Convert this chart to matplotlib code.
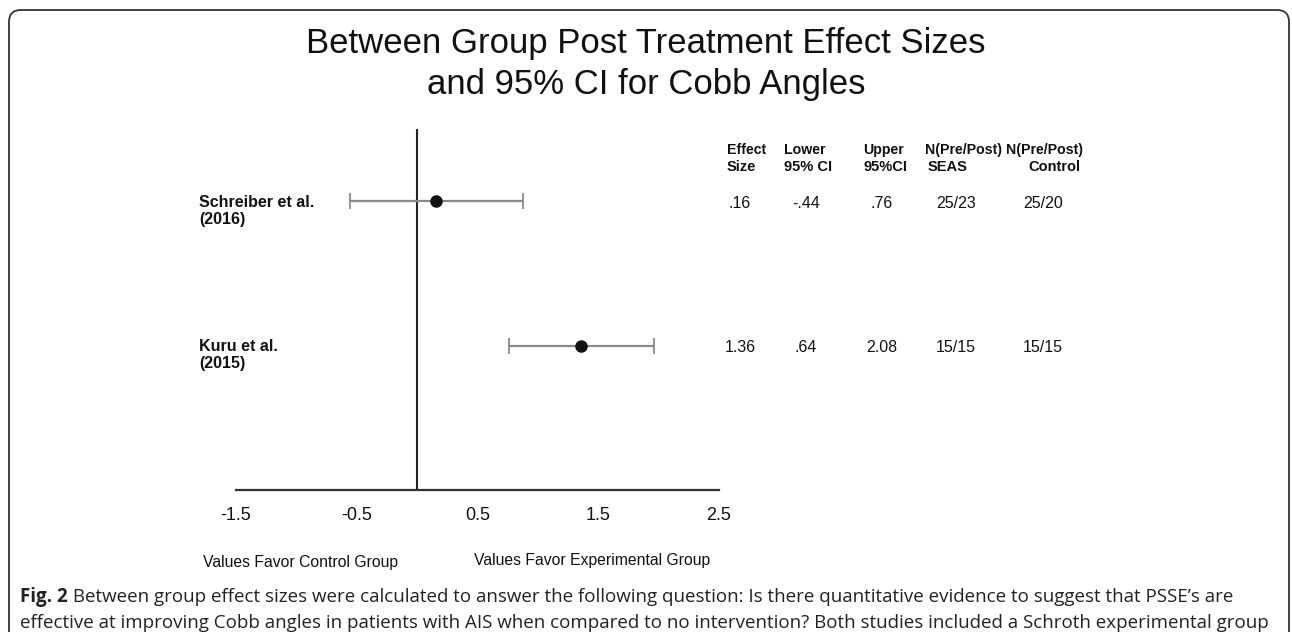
import matplotlib
matplotlib.use("Agg")
import matplotlib.pyplot as plt
from matplotlib.patches import FancyBboxPatch
from matplotlib.transforms import IdentityTransform, blended_transform_factory, offset_copy

# ---------------- data ----------------
studies = ["Schreiber et al.\n(2016)", "Kuru et al.\n(2015)"]
effect = [0.16, 1.36]
ci_lower_drawn = [-0.56, 0.76]
ci_upper_drawn = [0.88, 1.96]

es_text = [".16", "1.36"]
lower_text = ["-.44", ".64"]
upper_text = [".76", "2.08"]
n_seas = ["25/23", "15/15"]
n_control = ["25/20", "15/15"]

header_top = ["Effect", "Lower", "Upper", "N(Pre/Post)", "N(Pre/Post)"]
header_bot = ["Size", "95% CI", "95%CI", "SEAS", "Control"]

xticks = [-1.5, -0.5, 0.5, 1.5, 2.5]
xtick_labels = ["-1.5", "-0.5", "0.5", "1.5", "2.5"]

title = "Between Group Post Treatment Effect Sizes\nand 95% CI for Cobb Angles"
favor_left = "Values Favor Control Group"
favor_right = "Values Favor Experimental Group"
cap_bold = "Fig. 2"
cap_line1 = " Between group effect sizes were calculated to answer the following question: Is there quantitative evidence to suggest that PSSE\u2019s are"
cap_line2 = "effective at improving Cobb angles in patients with AIS when compared to no intervention? Both studies included a Schroth experimental group"

# ---------------- figure ----------------
W, H = 1292, 632
fig = plt.figure(figsize=(W / 100, H / 100), dpi=100)
fig.patch.set_facecolor("white")
plt.rcParams["font.family"] = ["Liberation Sans", "DejaVu Sans"]

def fx(px):
    return px / W

def fy(py):
    return 1 - py / H

# rounded border (extends beyond bottom)
border = FancyBboxPatch((9, -60), 1280, 622 + 60, boxstyle="round,pad=0,rounding_size=12",
                        transform=IdentityTransform(), fill=False, edgecolor="#333333", linewidth=1.3)
fig.patches.append(border)

# title
fig.text(0.5, fy(64), title, ha="center", va="center", fontsize=25, color="#111111",
         linespacing=1.32)

# axes
left, right, top, bottom = 236, 719, 129, 490
ax = fig.add_axes([fx(left), fy(bottom), (right - left) / W, (bottom - top) / H])
ax.set_xlim(-1.5, 2.5)
ax.set_ylim(0, 2.5)
for s in ["left", "right", "top"]:
    ax.spines[s].set_visible(False)
ax.spines["bottom"].set_color("#333333")
ax.spines["bottom"].set_linewidth(1.6)
ax.set_yticks([])
ax.set_xticks(xticks)
ax.set_xticklabels(xtick_labels, fontsize=13, color="#111111")
ax.tick_params(axis="x", length=0, pad=12)
ax.axvline(0, color="#222222", linewidth=1.5)

ypos = [len(studies) - i for i in range(len(studies))]
for i in range(len(studies)):
    ax.errorbar(effect[i], ypos[i],
                xerr=[[effect[i] - ci_lower_drawn[i]], [ci_upper_drawn[i] - effect[i]]],
                fmt="none", ecolor="#8a8a8a", elinewidth=1.6, capsize=6, capthick=1.3, zorder=2)
    ax.plot(effect[i], ypos[i], "o", color="#111111", markersize=8, zorder=3)

# row labels and table values, y tied to data rows
trans = blended_transform_factory(fig.transFigure, ax.transData)
lab_trans = offset_copy(trans, fig=fig, y=-9.5, units="dots")
val_trans = offset_copy(trans, fig=fig, y=-2, units="dots")
val_centers = [740, 806, 882, 956, 1043]
for i in range(len(studies)):
    fig.text(fx(199), ypos[i], studies[i], transform=lab_trans, ha="left", va="center",
             fontsize=11.5, fontweight="bold", color="#111111", linespacing=1.15)
    row_vals = [es_text[i], lower_text[i], upper_text[i], n_seas[i], n_control[i]]
    for j, v in enumerate(row_vals):
        fig.text(fx(val_centers[j]), ypos[i], v, transform=val_trans, ha="center", va="center",
                 fontsize=11.5, color="#111111")

# header
top_x = [727, 784, 863, 925, 1006]
bot_x = [727, 784, 863, 928, 1028]
for j in range(len(header_top)):
    fig.text(fx(top_x[j]), fy(150), header_top[j], ha="left", va="center", fontsize=10.2,
             fontweight="bold", color="#111111")
    fig.text(fx(bot_x[j]), fy(167), header_bot[j], ha="left", va="center", fontsize=10.5,
             fontweight="bold", color="#111111")

# favor labels
fig.text(fx(203), fy(563), favor_left, ha="left", va="center", fontsize=11.3, color="#111111")
fig.text(fx(474), fy(561), favor_right, ha="left", va="center", fontsize=11.3, color="#111111")

# caption
fig.canvas.draw()
renderer = fig.canvas.get_renderer()
tb = fig.text(fx(20), fy(597), cap_bold, ha="left", va="center", fontsize=13.5,
              fontweight="bold", family=["Open Sans", "DejaVu Sans"], color="#222222")
bb = tb.get_window_extent(renderer=renderer)
fig.text(bb.x1 / W, fy(597), cap_line1, ha="left", va="center", fontsize=13.5,
         family=["Open Sans", "DejaVu Sans"], color="#222222")
fig.text(fx(20), fy(623), cap_line2, ha="left", va="center", fontsize=13.5,
         family=["Open Sans", "DejaVu Sans"], color="#222222")

fig.savefig("out.png", dpi=100)
